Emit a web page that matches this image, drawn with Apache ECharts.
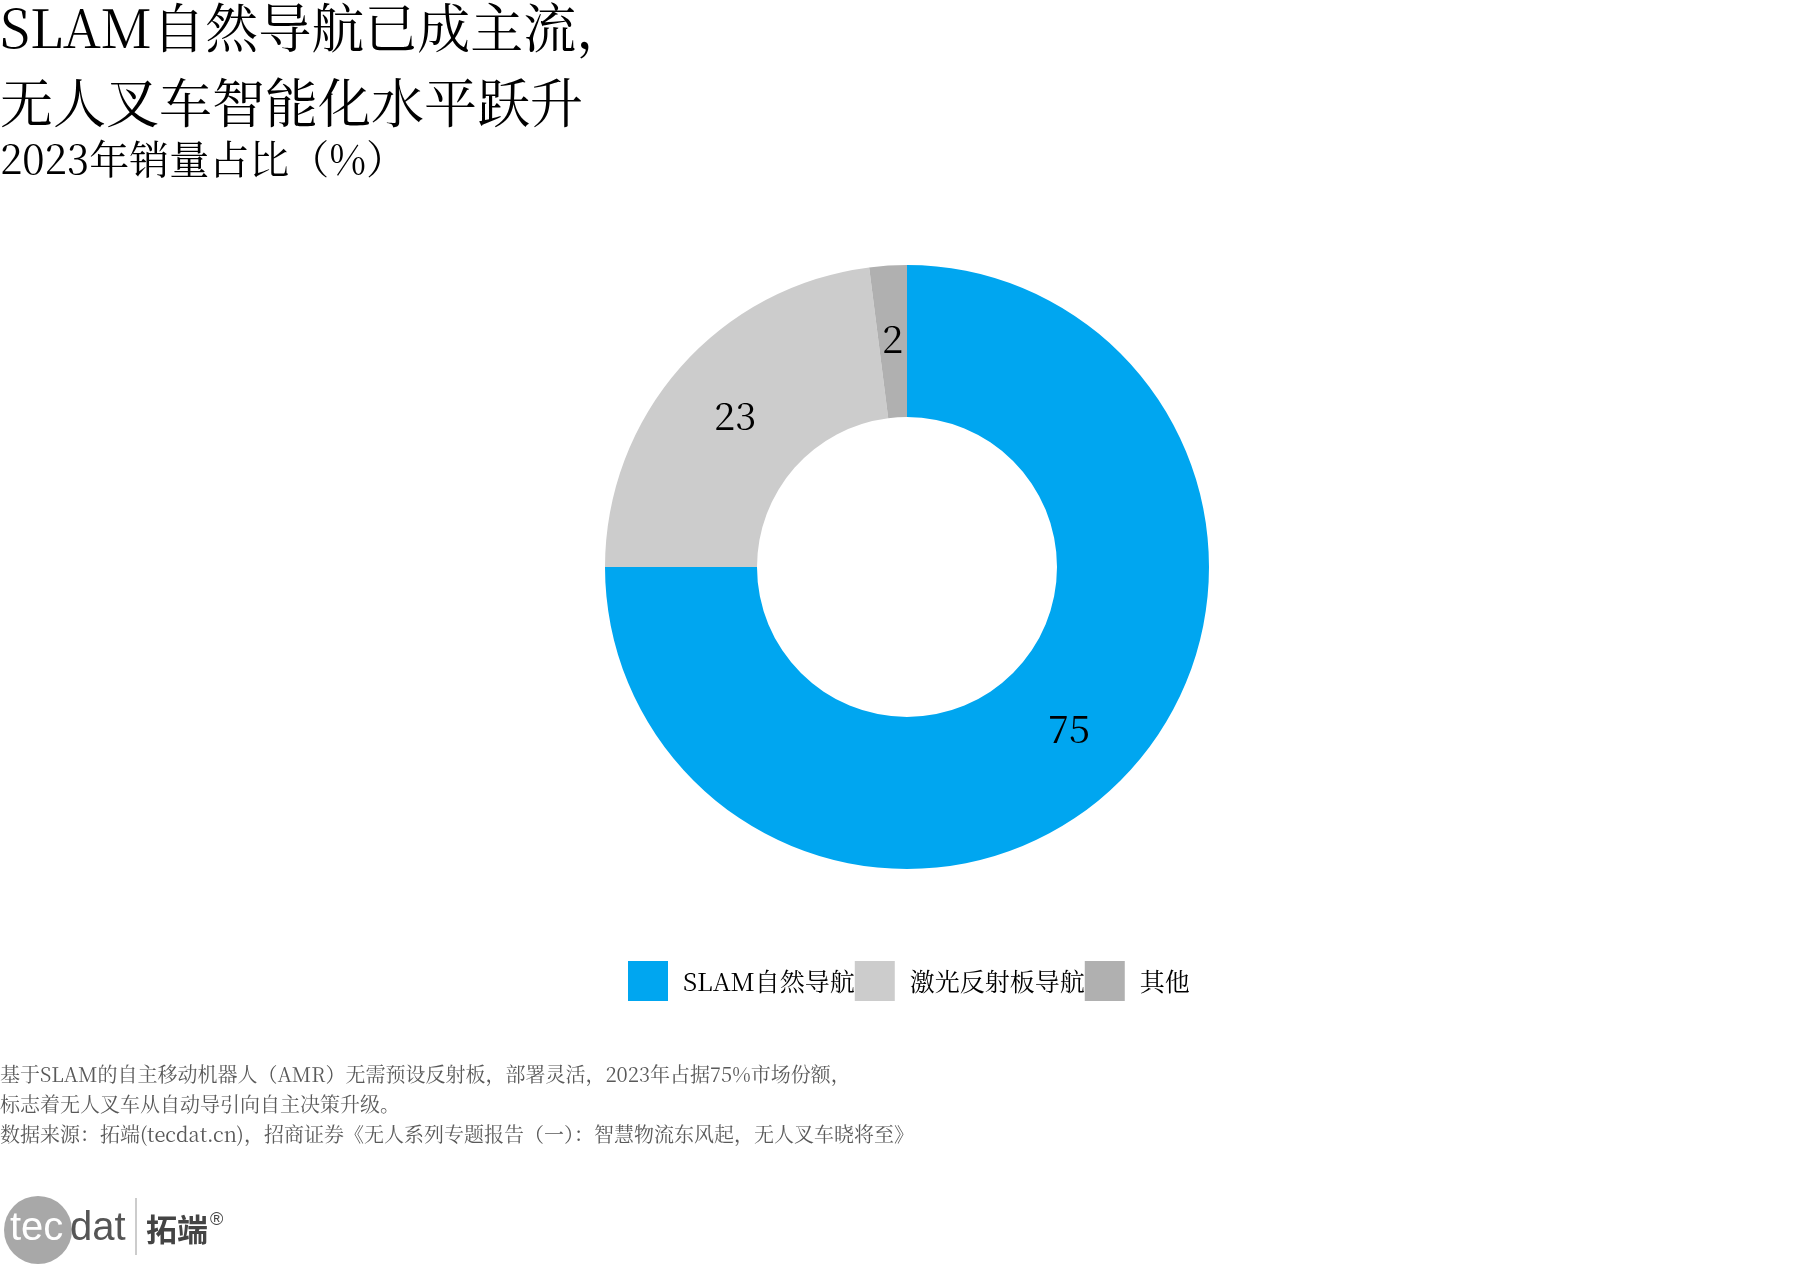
<!DOCTYPE html>
<html>
<head>
<meta charset="utf-8">
<script src="https://cdn.jsdelivr.net/npm/echarts@6/dist/echarts.min.js"></script>
<style>
html,body{margin:0;padding:0;background:#fff;}
#chart{width:1814px;height:1270px;}
</style>
</head>
<body>
<div id="chart"></div>
<script>
const categories = ['SLAM自然导航', '激光反射板导航', '其他'];
const shares = [75, 23, 2];
const colors = ['#00A6F0', '#CCCCCC', '#B0B0B0'];
const titleLines = ['SLAM自然导航已成主流，', '无人叉车智能化水平跃升'];
const subtitleText = '2023年销量占比（%）';
const noteLines = [
  '基于SLAM的自主移动机器人（AMR）无需预设反射板，部署灵活，2023年占据75%市场份额，',
  '标志着无人叉车从自动导引向自主决策升级。',
  '数据来源：拓端(tecdat.cn)，招商证券《无人系列专题报告（一）：智慧物流东风起，无人叉车晓将至》'
];

const FONT = "'Noto Serif CJK SC','Liberation Serif','Noto Sans CJK SC',serif";

const chart = echarts.init(document.getElementById('chart'), null, {renderer: 'canvas'});
chart.setOption({
  backgroundColor: '#ffffff',
  animation: false,
  title: [
    {
      text: titleLines.join('\n'),
      left: 0, top: -10, padding: 0,
      textStyle: {fontFamily: FONT, fontSize: 53, fontWeight: 'normal', color: '#000', lineHeight: 75}
    },
    {
      text: subtitleText,
      left: 0, top: 134, padding: 0,
      textStyle: {fontFamily: FONT, fontSize: 40, fontWeight: 'normal', color: '#000', lineHeight: 50}
    },
    {
      text: noteLines.join('\n'),
      left: 0, top: 1059, padding: 0,
      textStyle: {fontFamily: FONT, fontSize: 20, fontWeight: 'normal', color: '#595959', lineHeight: 30}
    }
  ],
  legend: {
    data: categories,
    left: 628, top: 961, padding: 0,
    orient: 'horizontal',
    icon: 'rect',
    itemWidth: 40, itemHeight: 40, itemGap: 0,
    selectedMode: false,
    textStyle: {fontFamily: FONT, fontSize: 25, color: '#000', width: 175, overflow: 'none', padding: [0, 0, 0, 10]}
  },
  series: [{
    type: 'pie',
    center: [907, 567],
    radius: [150, 302],
    startAngle: 90,
    clockwise: true,
    avoidLabelOverlap: false,
    emphasis: {disabled: true},
    label: {
      show: true, position: 'inside', formatter: '{c}',
      fontFamily: FONT, fontSize: 38, color: '#000'
    },
    labelLine: {show: false},
    itemStyle: {borderWidth: 0},
    data: categories.map((name, i) => ({name: name, value: shares[i], itemStyle: {color: colors[i]}}))
  }],
  graphic: [
    {type: 'circle', shape: {cx: 38, cy: 1230, r: 34}, style: {fill: '#A8A8A8'}},
    {type: 'text', x: 10, y: 1229, style: {text: 'tec', fill: '#ffffff', font: '40px "Liberation Sans", sans-serif', verticalAlign: 'middle'}},
    {type: 'text', x: 70, y: 1229, style: {text: 'dat', fill: '#555555', font: '40px "Liberation Sans", sans-serif', verticalAlign: 'middle'}},
    {type: 'line', shape: {x1: 136, y1: 1198, x2: 136, y2: 1255}, style: {stroke: '#cccccc', lineWidth: 2}},
    {type: 'text', x: 146, y: 1229, style: {text: '拓端', fill: '#444444', font: 'bold 31px "Noto Sans CJK SC", sans-serif', verticalAlign: 'middle'}},
    {type: 'text', x: 210, y: 1220, style: {text: '®', fill: '#444444', font: '18px "Liberation Sans", sans-serif', verticalAlign: 'middle'}}
  ]
});
</script>
</body>
</html>
